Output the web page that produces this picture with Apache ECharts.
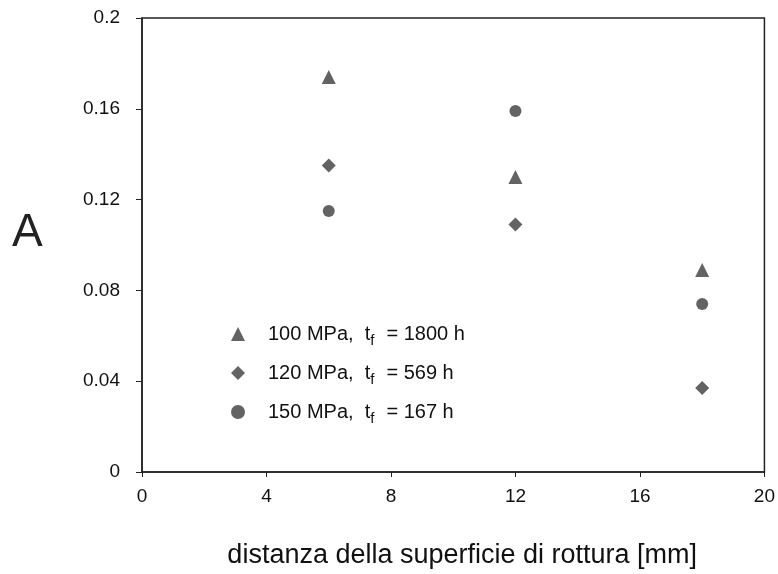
<!DOCTYPE html>
<html>
<head>
<meta charset="utf-8">
<script src="https://cdn.jsdelivr.net/npm/echarts@6/dist/echarts.min.js"></script>
<style>
  html, body { margin: 0; padding: 0; background: #fff; }
  #chart { width: 778px; height: 574px; }
</style>
</head>
<body>
<div id="chart"></div>
<script>
// distanza dalla superficie di rottura [mm]
var distanze = [6, 12, 18];
// valori di A per le tre prove
var a100 = [0.174, 0.13, 0.089];
var a120 = [0.135, 0.109, 0.037];
var a150 = [0.115, 0.159, 0.074];
var serieNomi = ["100 MPa", "120 MPa", "150 MPa"];
var tempi = ["1800 h", "569 h", "167 h"];

function punti(xs, ys) {
  return xs.map(function (x, i) { return [x, ys[i]]; });
}

var grigio = "#3c3c3c";
var font = "Liberation Sans, Arial, sans-serif";
var chart = echarts.init(document.getElementById("chart"));

var option = {
  backgroundColor: "#fff",
  textStyle: { fontFamily: font, color: "#111" },
  grid: {
    left: 142, right: 7, top: 18, bottom: 102,
    show: true, borderColor: "#222", borderWidth: 1.5
  },
  // nome dell'asse y, un po' sopra la metà come nell'originale
  graphic: [{
    type: "text",
    left: 12,
    top: 210,
    style: { text: "A", fontSize: 46, fill: "#222", fontFamily: font }
  }],
  legend: {
    orient: "vertical",
    left: 226,
    top: 319,
    itemGap: 15,
    itemWidth: 14,
    itemHeight: 14,
    data: serieNomi,
    formatter: function (name) {
      var i = serieNomi.indexOf(name);
      return "{a|" + name + ",  t}{s|f}{a|= " + tempi[i] + "}";
    },
    textStyle: {
      padding: [0, 0, 0, 18],
      rich: {
        a: { fontSize: 20, color: "#111", fontFamily: font },
        s: { fontSize: 15, color: "#111", padding: [13, 12, 0, 0], fontFamily: font }
      }
    }
  },
  xAxis: {
    type: "value",
    min: 0, max: 20, interval: 4,
    name: "distanza della superficie di rottura [mm]",
    nameLocation: "middle",
    nameGap: 70,
    nameTextStyle: { fontSize: 27, color: "#111", padding: [0, 0, 0, 18] },
    axisLine: { lineStyle: { color: "#222", width: 1.5 } },
    axisTick: { inside: false, length: 5, lineStyle: { color: "#222" } },
    axisLabel: { fontSize: 19, color: "#111", margin: 15 },
    splitLine: { show: false }
  },
  yAxis: {
    type: "value",
    min: 0, max: 0.2, interval: 0.04,
    axisLine: { lineStyle: { color: "#222", width: 1.5 } },
    axisTick: { inside: false, length: 6, lineStyle: { color: "#222" } },
    axisLabel: {
      fontSize: 19, color: "#111", margin: 22,
      formatter: function (v) { return String(+v.toFixed(2)); }
    },
    splitLine: { show: false }
  },
  series: [
    {
      name: serieNomi[0], type: "scatter", symbol: "triangle", symbolSize: 14,
      itemStyle: { color: grigio }, data: punti(distanze, a100)
    },
    {
      name: serieNomi[1], type: "scatter", symbol: "diamond", symbolSize: 14,
      itemStyle: { color: grigio }, data: punti(distanze, a120)
    },
    {
      name: serieNomi[2], type: "scatter", symbol: "circle", symbolSize: 12,
      itemStyle: { color: grigio }, data: punti(distanze, a150)
    }
  ]
};

chart.setOption(option);
</script>
</body>
</html>
